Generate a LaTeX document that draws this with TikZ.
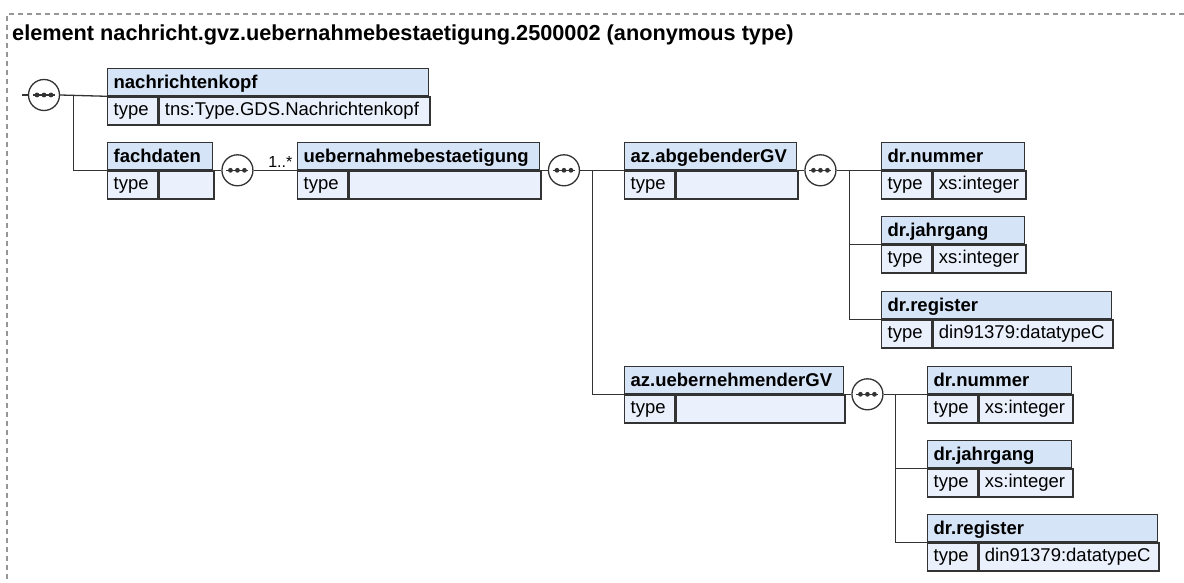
\documentclass[tikz,border=0pt]{standalone}
\usepackage{fontspec}
\setmainfont{Liberation Sans}
\usepackage{xcolor}
\usetikzlibrary{positioning, calc}

\definecolor{kopfblau}{RGB}{214,228,247}
\definecolor{typblau}{RGB}{234,241,252}
\definecolor{rahmen}{RGB}{51,51,51}
\definecolor{strich}{RGB}{150,150,150}

\begin{document}
\begin{tikzpicture}[
    x=1pt, y=-1pt,
    every node/.style={font=\fontsize{18.5}{22}\selectfont},
    kopf/.style={
        rectangle,
        draw=rahmen,
        fill=kopfblau,
        line width=1.3pt,
        anchor=north west,
        minimum height=27pt,
        inner xsep=6pt,
        inner ysep=0pt,
        text height=14pt,
        text depth=2pt,
        align=left,
        font=\fontsize{18.5}{22}\selectfont\bfseries
    },
    typ/.style={
        rectangle,
        draw=rahmen,
        fill=typblau,
        line width=1.3pt,
        anchor=north west,
        minimum height=28pt,
        inner xsep=6pt,
        inner ysep=0pt,
        text height=12.5pt,
        text depth=3.5pt,
        align=left
    },
    folge/.style={
        circle,
        draw=rahmen,
        fill=white,
        line width=1.3pt,
        minimum size=31pt,
        inner sep=0pt,
        path picture={
            \draw[draw=rahmen, solid, line width=1.3pt]
                ([xshift=-11pt]path picture bounding box.center) -- ([xshift=11pt]path picture bounding box.center);
            \foreach \d in {-7,0,7}
                \fill[fill=rahmen] ([xshift=\d pt]path picture bounding box.center) circle[radius=2.4pt];
        }
    },
    linie/.style={
        draw=rahmen,
        line width=1.3pt
    },
    mult/.style={
        anchor=south east,
        inner xsep=4pt,
        inner ysep=2pt,
        font=\fontsize{16}{18}\selectfont
    }
]
\useasboundingbox (0,0) rectangle (1184,583);

% Rahmen und Titel
\draw[strich, line width=1.2pt, dash pattern=on 5pt off 4pt] (1184,14) -| (7,583);
\node[anchor=base west, inner sep=0pt, font=\fontsize{21.7}{26}\selectfont\bfseries] (titel) at (12,41)
    {element nachricht.gvz.uebernahmebestaetigung.2500002 (anonymous type)};

% Elemente
\node[kopf, text width=309pt] (nk) at (107,68) {nachrichtenkopf};
\node[typ, text width=38pt] (nkT) at (nk.south west) {type};
\node[typ, text width=259pt] (nkV) at (nkT.north east) {tns:Type.GDS.Nachrichtenkopf};

\node[kopf, text width=93pt] (fd) at (107,142) {fachdaten};
\node[typ, text width=38pt] (fdT) at (fd.south west) {type};
\node[typ, text width=43pt] (fdV) at (fdT.north east) {};

\node[kopf, text width=230pt] (ub) at (297,142) {uebernahmebestaetigung};
\node[typ, text width=38pt] (ubT) at (ub.south west) {type};
\node[typ, text width=180pt] (ubV) at (ubT.north east) {};

\node[kopf, text width=160pt] (ag) at (624,142) {az.abgebenderGV};
\node[typ, text width=38pt] (agT) at (ag.south west) {type};
\node[typ, text width=110pt] (agV) at (agT.north east) {};

\node[kopf, text width=131pt] (n1) at (881,142) {dr.nummer};
\node[typ, text width=38pt] (n1T) at (n1.south west) {type};
\node[typ, text width=81pt] (n1V) at (n1T.north east) {xs:integer};

\node[kopf, text width=131pt] (j1) at (881,216) {dr.jahrgang};
\node[typ, text width=38pt] (j1T) at (j1.south west) {type};
\node[typ, text width=81pt] (j1V) at (j1T.north east) {xs:integer};

\node[kopf, text width=218pt] (r1) at (881,291) {dr.register};
\node[typ, text width=38pt] (r1T) at (r1.south west) {type};
\node[typ, text width=168pt] (r1V) at (r1T.north east) {din91379:datatypeC};

\node[kopf, text width=207pt] (ue) at (624,366) {az.uebernehmenderGV};
\node[typ, text width=38pt] (ueT) at (ue.south west) {type};
\node[typ, text width=157pt] (ueV) at (ueT.north east) {};

\node[kopf, text width=132pt] (n2) at (927,366) {dr.nummer};
\node[typ, text width=38pt] (n2T) at (n2.south west) {type};
\node[typ, text width=82pt] (n2V) at (n2T.north east) {xs:integer};

\node[kopf, text width=132pt] (j2) at (927,440) {dr.jahrgang};
\node[typ, text width=38pt] (j2T) at (j2.south west) {type};
\node[typ, text width=82pt] (j2V) at (j2T.north east) {xs:integer};

\node[kopf, text width=218pt] (r2) at (927,514) {dr.register};
\node[typ, text width=38pt] (r2T) at (r2.south west) {type};
\node[typ, text width=168pt] (r2V) at (r2T.north east) {din91379:datatypeC};

% Sequenzen
\node[folge] (s1) at (44,95) {};
\node[folge, right=8pt of fd.south east] (s2) {};
\node[folge, right=7.5pt of ub.south east] (s3) {};
\node[folge, right=7pt of ag.south east] (s4) {};
\node[folge, right=7pt of ue.south east] (s5) {};

\coordinate (ein) at (22,95);
\coordinate (k1) at ($(s1.east)+(13.5,0)$);
\coordinate (k3) at ($(s3.east)+(12.5,0)$);
\coordinate (k4) at ($(s4.east)+(13,0)$);
\coordinate (k5) at ($(s5.east)+(12,0)$);

% Verbindungen
\draw[linie] (ein) -- (s1.west);
\draw[linie] (s1.east) -- (nk.south west);
\draw[linie] (k1) |- (fd.south west);

\draw[linie] (fd.south east) -- (s2.west);
\draw[linie] (s2.east) -- node[pos=1, mult] {1..*} (ub.south west);

\draw[linie] (ub.south east) -- (s3.west);
\draw[linie] (s3.east) -- (ag.south west);
\draw[linie] (k3) |- (ue.south west);

\draw[linie] (ag.south east) -- (s4.west);
\draw[linie] (s4.east) -- (n1.south west);
\draw[linie] (k4) |- (j1.south west);
\draw[linie] (k4) |- (r1.south west);

\draw[linie] (ue.south east) -- (s5.west);
\draw[linie] (s5.east) -- (n2.south west);
\draw[linie] (k5) |- (j2.south west);
\draw[linie] (k5) |- (r2.south west);

\end{tikzpicture}
\end{document}
